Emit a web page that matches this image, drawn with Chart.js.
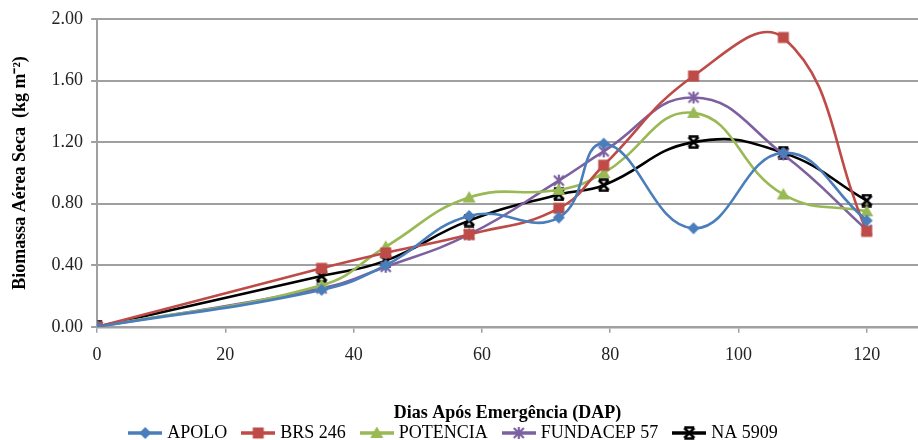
<!DOCTYPE html>
<html>
<head>
<meta charset="utf-8">
<script src="https://cdn.jsdelivr.net/npm/chart.js@4"></script>
<style>
  html, body { margin: 0; padding: 0; background: #fff; }
  #wrap { width: 918px; height: 440px; }
</style>
</head>
<body>
<div id="wrap"><canvas id="chart"></canvas></div>
<script>
// days after emergence
const days = [0, 35, 45, 58, 72, 79, 93, 107, 120];

const apolo    = [0, 0.24, 0.40, 0.72, 0.71, 1.19, 0.64, 1.13, 0.69];
const brs246   = [0, 0.38, 0.48, 0.60, 0.77, 1.05, 1.63, 1.88, 0.62];
const potencia = [0, 0.27, 0.52, 0.84, 0.89, 1.00, 1.39, 0.86, 0.75];
const fundacep = [0, 0.25, 0.39, 0.60, 0.95, 1.14, 1.49, 1.12, 0.63];
const na5909   = [0, 0.33, 0.43, 0.69, 0.86, 0.92, 1.20, 1.13, 0.82];

const yTicks = [0, 0.4, 0.8, 1.2, 1.6, 2.0];
const xTicks = [0, 20, 40, 60, 80, 100, 120];

const serif = "'Liberation Serif', 'Times New Roman', serif";

const series = [
  { label: "APOLO", values: apolo, color: "#4a7ebb", mark: "diamond" },
  { label: "BRS 246", values: brs246, color: "#be4b48", mark: "square" },
  { label: "POTÊNCIA", values: potencia, color: "#98b954", mark: "triangle" },
  { label: "FUNDACEP 57", values: fundacep, color: "#7d60a0", mark: "asterisk" },
  { label: "NA 5909", values: na5909, color: "#000000", mark: "bowtie" }
];

// draw a marker shape centred on (cx, cy)
function drawMark(g, mark, color, cx, cy) {
  g.fillStyle = color;
  g.strokeStyle = color;
  g.lineWidth = 2.2;
  g.beginPath();
  if (mark === "diamond") {
    g.moveTo(cx, cy - 6); g.lineTo(cx + 6, cy); g.lineTo(cx, cy + 6); g.lineTo(cx - 6, cy);
    g.closePath(); g.fill();
  } else if (mark === "square") {
    g.rect(cx - 5.5, cy - 5.5, 11, 11); g.fill();
  } else if (mark === "triangle") {
    g.moveTo(cx, cy - 6.5); g.lineTo(cx + 6.5, cy + 5); g.lineTo(cx - 6.5, cy + 5);
    g.closePath(); g.fill();
  } else if (mark === "asterisk") {
    g.moveTo(cx - 5, cy - 5); g.lineTo(cx + 5, cy + 5);
    g.moveTo(cx + 5, cy - 5); g.lineTo(cx - 5, cy + 5);
    g.moveTo(cx, cy - 6); g.lineTo(cx, cy + 6);
    g.stroke();
  } else {
    g.lineWidth = 2.6;
    g.moveTo(cx - 5, cy - 5); g.lineTo(cx + 5, cy + 5);
    g.moveTo(cx + 5, cy - 5); g.lineTo(cx - 5, cy + 5);
    g.moveTo(cx - 5, cy - 5.5); g.lineTo(cx + 5, cy - 5.5);
    g.moveTo(cx - 5, cy + 5.5); g.lineTo(cx + 5, cy + 5.5);
    g.stroke();
  }
}

function markerImage(mark, color) {
  const c = document.createElement("canvas");
  c.width = 14; c.height = 14;
  drawMark(c.getContext("2d"), mark, color, 7, 7);
  return c;
}

function legendImage(mark, color) {
  const c = document.createElement("canvas");
  c.width = 34; c.height = 14;
  const g = c.getContext("2d");
  g.strokeStyle = color; g.lineWidth = 3.5;
  g.beginPath(); g.moveTo(0, 7); g.lineTo(34, 7); g.stroke();
  drawMark(g, mark, color, 17, 7);
  return c;
}

const datasets = series.map(s => ({
  label: s.label,
  data: days.map((d, i) => ({ x: d, y: s.values[i] })),
  borderColor: s.color,
  backgroundColor: s.color,
  pointStyle: markerImage(s.mark, s.color),
  legendMark: legendImage(s.mark, s.color),
  pointRadius: 6,
  borderWidth: 2.6,
  tension: 0.45,
  fill: false
}));

new Chart(document.getElementById("chart"), {
  type: "line",
  data: { datasets },
  options: {
    responsive: true,
    maintainAspectRatio: false,
    animation: false,
    layout: { autoPadding: false, padding: { left: 10, top: 19, right: 0, bottom: 0 } },
    plugins: {
      tooltip: { enabled: false },
      legend: {
        position: "bottom",
        maxHeight: 16,
        labels: {
          usePointStyle: true,
          pointStyleWidth: 26,
          padding: 0,
          color: "#000",
          font: { family: serif, size: 18 },
          generateLabels: (chart) => chart.data.datasets.map((ds, i) => ({
            text: ds.label + "\u2002\u2002",
            datasetIndex: i,
            pointStyle: ds.legendMark,
            fillStyle: ds.borderColor,
            strokeStyle: ds.borderColor,
            lineWidth: 0,
            hidden: false,
            fontColor: "#000"
          }))
        }
      }
    },
    scales: {
      x: {
        type: "linear",
        min: 0,
        max: 128,
        afterBuildTicks: (axis) => { axis.ticks = xTicks.map(v => ({ value: v })); },
        grid: { drawOnChartArea: false, drawTicks: true, tickLength: 6, color: "#a0a0a0", lineWidth: 1.5 },
        border: { color: "#a0a0a0", width: 2.5 },
        ticks: { color: "#222", padding: 12, font: { family: serif, size: 18 } },
        title: {
          display: true,
          text: "Dias Após Emergência (DAP)",
          color: "#000",
          font: { family: serif, size: 18, weight: "bold" },
          padding: { top: 24, bottom: 0 }
        }
      },
      y: {
        min: 0,
        max: 2,
        afterBuildTicks: (axis) => { axis.ticks = yTicks.map(v => ({ value: v })); },
        grid: { color: "#a0a0a0", lineWidth: 2, tickLength: 6 },
        border: { color: "#a0a0a0", width: 2 },
        ticks: { color: "#222", padding: 8, font: { family: serif, size: 18 }, callback: v => v.toFixed(2) },
        title: {
          display: true,
          text: "Biomassa Aérea Seca  (kg m⁻²)",
          color: "#000",
          font: { family: serif, size: 18, weight: "bold" },
          padding: { top: 0, bottom: 12 }
        }
      }
    }
  }
});
</script>
</body>
</html>
